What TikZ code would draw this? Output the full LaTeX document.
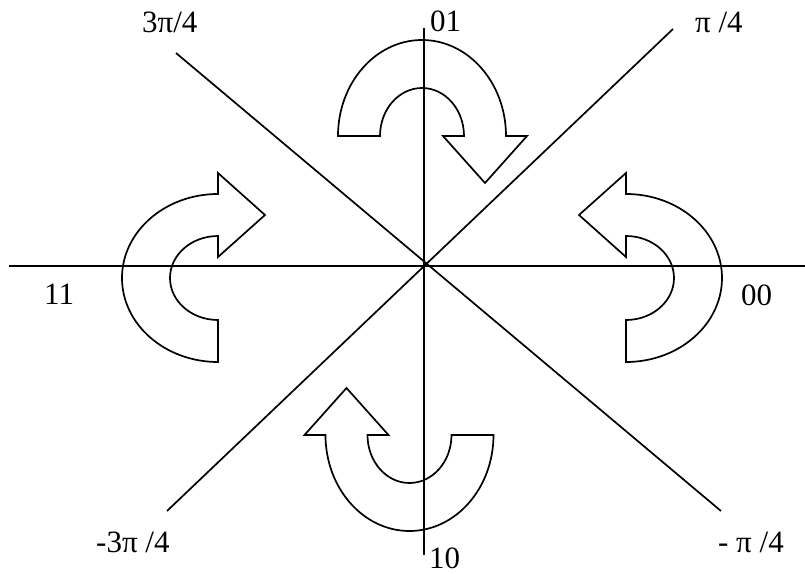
\documentclass[tikz,border=0pt]{standalone}
\usepackage{fontspec}
\setmainfont{Liberation Serif}
\usepackage{tikz}

\begin{document}
\begin{tikzpicture}[x=1pt, y=1pt, every node/.style={font=\fontsize{31}{37}\selectfont, inner sep=0pt, anchor=base west}, axis/.style={line width=1.7pt}, uturn/.style={line width=1.7pt, line join=miter}]
\useasboundingbox (-424,-307) rectangle (381,266);
% axes and diagonals
\draw[axis] (-415,0) -- (381,0);\draw[axis] (0,238) -- (0,-289);
\draw[axis] (-248,213) -- (297,-245);\draw[axis] (249,237) -- (-257,-245);
% phase labels
\node (p3) at (-282,233) {3π/4};\node (p1) at (271,233) {π /4};
\node (m3) at (-328,-286) {-3π /4};\node (m1) at (294,-286) {- π /4};
% symbol labels
\node (s01) at (6,234) {01};\node (s00) at (317,-39) {00};
\node (s11) at (-380,-38) {11};\node (s10) at (5,-302) {10};
% turning arrows
\foreach \p/\r/\s in {{(-2,130)}/0/1, {(-206,-12)}/90/1, {(-14.5,-169)}/180/1, {(202,-12)}/90/-1}
  \draw[uturn, shift={\p}, xscale=\s, rotate=\r] (-84,0) arc[start angle=180, end angle=0, x radius=84, y radius=96] -- (105,0) -- (63,-47) -- (21,0) -- (42,0) arc[start angle=0, end angle=180, x radius=42, y radius=48] -- cycle;
\end{tikzpicture}
\end{document}
